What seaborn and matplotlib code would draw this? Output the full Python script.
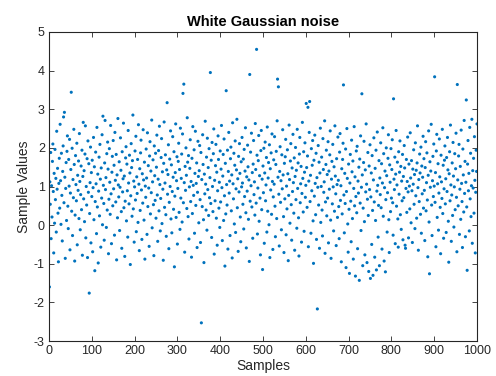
import numpy as np
import pandas as pd
import matplotlib
matplotlib.use("Agg")
import matplotlib.pyplot as plt
import seaborn as sns

# ---- data (read / estimated from the reference) ----
sample_values = [
    -1.60, 1.12, 0.54, 1.88, -0.35, 1.02, 0.21, 1.65, 2.10, 0.87, -0.72, 1.34, 0.05, 1.96, 0.66, 1.21, -0.18, 2.43, 0.93, 1.47, 0.31, -0.95, 1.08, 1.73, 0.44,
    2.61, 1.15, 0.02, 1.86, 0.77, -0.41, 1.39, 2.05, 2.80, 0.58, 2.92, 1.24, -0.86, 0.95, 1.62, 0.12, 1.91, 2.31, 0.49, -0.09, 1.70, 1.01, 2.22, -0.64, 0.83,
    1.44, 3.44, 0.36, 1.99, -0.27, 1.18, 0.71, 2.48, 1.57, -0.93, 0.26, 1.80, 1.05, 0.63, 2.12, -0.51, 1.29, 0.90, 1.66, 0.17, 2.37, 1.13, -0.12, 0.79, 1.53,
    0.40, 1.94, -0.78, 1.26, 2.66, 0.68, 1.41, 0.09, 1.84, 2.57, -0.33, 1.00, 0.52, 1.72, -0.84, 2.18, 0.85, 1.59, -1.76, 0.30, 1.10, 2.02, -0.46, 1.36, 0.74,
    1.68, -0.69, 0.97, 2.27, 0.14, 1.51, -1.18, 0.61, 1.89, 1.07, -0.22, 2.53, 0.47, 1.32, -0.98, 0.88, 1.76, 0.24, 2.09, 1.19, -0.57, 1.48, 0.70, 2.34, 0.01,
    2.82, 1.03, 0.56, -0.39, 1.61, 2.71, 0.92, 1.23, -0.06, 1.85, 0.39, 2.15, 1.45, -0.74, 0.67, 1.98, 1.11, 0.28, 2.58, 0.81, -0.48, 1.37, 1.78, 0.50, 2.19,
    0.94, 1.55, -0.26, 2.40, 1.16, 0.60, 1.83, -0.90, 1.30, 0.19, 2.76, 1.04, 0.73, 1.64, -0.14, 0.98, 2.26, 1.42, 0.35, -0.60, 1.90, 0.86, 1.20, 2.64, 0.45,
    1.27, -0.81, 0.62, 1.74, 2.03, 0.11, 1.58, 0.89, -0.31, 2.45, 1.09, 0.55, 1.81, 1.35, -1.02, 0.76, 2.11, 1.49, 0.23, 1.67, 2.85, 0.42, 1.14, -0.44, 0.99,
    1.92, 0.65, 2.30, -0.17, 1.25, 0.82, 1.70, 0.07, 2.60, 1.06, -0.66, 1.46, 0.38, 1.87, 2.20, 0.91, -0.37, 1.33, 0.57, 2.47, 1.17, 0.13, 1.63, -0.88, 1.01,
    0.72, 1.97, 1.22, -0.24, 2.39, 0.48, 1.54, 0.96, -0.55, 1.79, 2.16, 0.29, 1.40, 0.84, 2.72, -0.07, 1.12, 1.69, 0.53, -0.79, 2.05, 1.28, 0.64, 1.86, 0.18,
    1.50, 2.33, 0.78, -0.42, 1.19, 1.93, 0.37, 2.56, 1.05, -0.15, 0.69, 1.75, 2.24, 0.04, 1.38, 0.93, -0.91, 1.60, 2.67, 0.46, 1.09, 1.82, 0.27, -0.29, 1.43,
    3.17, 0.80, 1.31, 2.08, -0.61, 0.59, 1.71, 1.00, 2.44, 0.16, 1.56, -0.20, 0.87, 2.29, 1.24, 0.41, 1.90, -1.08, 0.75, 1.36, 2.62, 0.20, 1.15, 1.77, -0.49,
    0.95, 1.65, 2.12, 0.33, 1.44, -0.11, 2.51, 0.70, 1.21, 1.84, 0.08, 2.36, 3.41, 0.58, 3.65, 1.10, -0.70, 1.52, 0.90, 2.00, 1.29, 0.43, 2.78, 1.63, 0.22,
    1.80, -0.36, 0.99, 1.47, 2.21, 0.61, 1.13, -0.83, 1.73, 0.30, 2.55, 1.03, 0.77, 1.95, -0.21, 1.34, 2.43, 0.51, 1.08, 1.61, -0.58, 0.85, 2.17, 1.26, 0.06,
    1.41, 2.06, 0.66, -0.45, 1.88, -2.53, 1.18, 0.48, 2.34, 1.57, 0.14, -0.97, 1.32, 0.81, 2.69, 1.06, 0.39, 1.76, -0.13, 2.25, 0.92, 1.49, 0.25, 1.98, 0.71,
    1.23, 3.95, 0.56, 1.68, -0.32, 2.14, 1.00, 0.35, 1.85, 2.49, -0.75, 1.16, 0.63, 1.54, 2.09, 0.18, 1.37, -0.52, 0.89, 2.31, 1.70, 0.44, 1.11, -0.06, 1.92,
    0.60, 1.45, 2.58, 0.97, -0.40, 1.27, 1.83, 0.12, 2.23, 0.76, -1.06, 1.60, 0.29, 3.48, 1.05, 0.52, 1.94, -0.62, 1.39, 2.40, 0.83, 1.14, -0.27, 1.72, 2.02,
    0.37, 1.30, -0.85, 2.65, 1.07, 0.68, 1.86, 0.03, 1.55, 2.18, -0.19, 0.94, 1.43, 2.74, 0.45, 1.20, -0.68, 1.78, 0.86, 2.11, 1.34, 0.21, -0.43, 1.64, 0.99,
    2.27, 1.09, 0.54, 1.71, -0.10, 1.96, 0.74, 1.40, 2.52, 0.32, -0.59, 1.25, 0.88, 2.07, 1.51, 0.15, 1.17, -0.94, 3.90, 0.62, 1.89, 1.02, 2.38, 0.47, 1.36,
    -0.34, 1.58, 2.19, 0.79, 1.12, 0.26, 2.63, 1.44, 0.57, 4.55, 1.81, -0.23, 0.96, 1.67, 2.32, 0.10, 1.28, 0.70, -0.77, 1.93, 2.45, 0.40, 1.19, -1.15, 1.53,
    0.84, 1.99, -0.47, 1.35, 2.15, 0.63, 1.04, 1.75, -0.18, 2.54, 0.36, 1.22, 1.62, 0.01, 2.08, -0.84, 1.46, 0.91, 1.87, 0.28, 2.36, 1.13, -0.63, 0.73, 1.69,
    1.06, 2.29, 0.49, -0.30, 1.57, 1.91, 0.17, 2.70, 3.78, 1.24, 3.58, 0.80, -0.54, 1.39, 2.03, 0.59, 1.15, -0.12, 1.82, 0.94, 2.47, 1.30, 0.22, -0.71, 1.60,
    0.68, 1.77, 2.22, -0.25, 1.01, 0.42, 1.95, 1.33, -0.92, 0.77, 2.59, 1.18, 0.05, 1.66, 2.11, 0.53, -0.39, 1.48, 0.87, 2.35, 1.10, 0.31, 1.74, -0.65, 1.26,
    2.01, 0.66, 1.42, -0.08, 2.48, 0.95, 1.61, 0.19, -0.80, 1.84, 2.27, 0.58, 1.07, 1.52, -0.44, 0.82, 2.66, 1.21, 0.34, 1.90, -0.16, 1.37, 2.13, 0.72, 1.03,
    3.15, 1.49, 0.46, 1.79, 3.05, -0.56, 1.14, 2.40, 3.20, 0.61, 1.29, -0.21, 1.98, 0.89, 1.55, 2.19, 0.11, -0.99, 1.68, 0.75, 2.33, 1.08, 0.27, 1.86, -0.37,
    1.23, -2.17, 0.98, 2.06, 0.52, 1.63, -0.60, 1.35, 2.51, 0.07, 1.00, 1.76, 0.39, -0.28, 2.24, 1.44, 0.85, 1.12, 2.70, -0.73, 0.60, 1.57, 1.94, 0.24, 1.31,
    0.70, 2.16, -0.46, 1.40, 0.93, 1.82, 2.44, 0.13, -0.86, 1.19, 1.65, 0.55, 2.09, 0.99, -0.15, 1.51, 0.36, 2.57, 1.27, 0.81, -0.53, 1.72, 1.05, 0.20, 2.28,
    1.16, 0.48, -0.35, 1.89, 2.37, 0.64, 1.02, -0.95, 1.46, 0.29, 1.70, 2.12, 3.63, 0.78, -0.20, 1.34, 0.56, 1.97, -1.10, 0.87, 2.50, 1.21, 0.03, -0.70, 1.58,
    0.41, -1.25, 1.09, 1.83, 0.62, -0.43, 2.20, 1.38, 0.17, 1.66, -0.88, 0.95, 2.55, 0.50, 1.25, -1.32, 0.74, 1.92, 0.32, 2.04, -0.61, 1.14, 0.83, 1.50, -1.43,
    1.71, 0.57, 2.31, -0.14, 0.98, 3.40, 1.30, -1.05, 0.44, 1.62, 2.17, 0.09, -0.77, 1.43, 0.86, 2.62, 1.06, -0.97, 0.67, 1.88, 0.25, -1.20, 1.53, 0.92, 2.08,
    -1.38, 0.73, 1.35, -0.50, 1.80, 0.38, -1.30, 1.17, 2.26, 0.60, -0.83, 1.47, 0.12, 1.94, -1.16, 0.88, 2.41, 1.03, -0.31, 0.51, 1.67, -1.05, 1.22, 0.79, 2.13,
    0.45, 1.59, -0.62, 1.09, 2.52, 0.23, 1.85, -0.93, 0.97, 1.40, -1.21, 0.66, 2.00, 1.28, -0.18, 0.84, 1.73, 2.34, 0.14, -0.71, 1.56, 1.11, 0.35, 1.98, 0.70,
    1.44, 2.21, 0.58, -0.26, 3.27, 1.19, 0.92, 1.76, -0.48, 1.32, 2.45, 0.49, 1.04, 1.63, 0.16, -0.57, 1.90, 0.80, 1.37, 2.18, 0.27, 1.52, -0.11, 1.14, 0.63,
    1.83, -0.38, 1.26, 0.71, 2.06, 1.48, -0.52, -0.60, 0.95, 1.70, 0.33, 1.13, 2.28, 0.86, -0.33, 1.58, 1.01, 0.42, 2.39, 1.22, 0.06, 1.67, 0.89, -0.45, 1.45,
    1.06, 1.95, 0.54, 1.31, -0.09, 2.13, 0.76, 1.42, 0.18, 1.61, 2.57, 0.97, -0.65, 1.18, 0.61, 1.84, 1.35, 0.28, 2.02, -0.21, 1.53, 0.81, 1.24, 2.30, 0.44,
    1.72, 0.90, -0.40, 1.49, 2.16, 0.37, 1.10, 1.87, 0.65, -0.82, 1.29, 2.44, 0.08, -1.26, 1.64, 0.98, 1.40, 2.61, 0.52, -0.27, 1.15, 1.78, 0.74, 2.10, 1.01,
    3.84, 0.59, 1.36, -0.56, 1.92, 2.35, 0.20, 1.07, 1.59, -0.13, 0.83, 2.23, 1.25, 0.46, -0.74, 1.81, 1.12, 0.69, 2.48, 0.30, 1.55, -0.34, 0.94, 1.68, 2.05,
    0.55, 1.20, -0.19, 1.75, 0.87, 2.27, 1.43, 0.10, -0.96, 1.33, 1.90, 0.63, 2.59, 1.04, -0.42, 0.78, 1.61, 0.25, 2.14, 1.27, -0.05, 0.99, 1.85, 0.40, 1.46,
    2.38, 0.72, -0.69, 3.64, 1.17, 0.50, 1.79, 2.09, -0.24, 0.93, 1.52, 0.15, 2.46, 1.08, 0.61, -0.58, 1.97, 1.30, 0.34, 2.71, 0.82, 1.65, -0.30, 1.11, 3.24,
    0.47, -1.17, 1.58, 2.19, 0.89, 1.34, -0.15, 2.53, 0.68, 1.86, 0.22, 1.02, 2.74, -0.47, 1.41, 0.96, 1.73, 0.31, 2.29, 1.16, -0.72, 0.85, 1.94, 1.39, 2.62,
]
sample_index = list(range(1, len(sample_values) + 1))

x_ticks = [0, 100, 200, 300, 400, 500, 600, 700, 800, 900, 1000]
y_ticks = [-3, -2, -1, 0, 1, 2, 3, 4, 5]

title_text = "White Gaussian noise"
x_label = "Samples"
y_label = "Sample Values"

df = pd.DataFrame({"Samples": sample_index, "Sample Values": sample_values})

# ---- style ----
sns.set_style("ticks")
plt.rcParams["font.family"] = ["Liberation Sans", "DejaVu Sans"]

fig = plt.figure(figsize=(4.96, 3.76), dpi=100)
ax = fig.add_axes([49 / 496, 35 / 376, 428 / 496, 309 / 376])

sns.scatterplot(data=df, x="Samples", y="Sample Values", ax=ax,
                s=5, color="#0072BD", edgecolor="none", linewidth=0)

ax.set_xlim(0, 1000)
ax.set_ylim(-3, 5)
ax.set_xticks(x_ticks)
ax.set_yticks(y_ticks)
ax.set_xticklabels([str(t) for t in x_ticks])
ax.set_yticklabels([str(t) for t in y_ticks])

for sp in ax.spines.values():
    sp.set_visible(True)
    sp.set_color("#262626")
    sp.set_linewidth(0.8)

ax.tick_params(axis="both", direction="in", length=3.5, width=0.6,
               colors="#262626", labelsize=9, top=True, right=True, pad=3)
for lab in ax.get_xticklabels() + ax.get_yticklabels():
    lab.set_color("#262626")

ax.set_title(title_text, fontsize=10.5, fontweight="bold", color="black", pad=4)
ax.set_xlabel(x_label, fontsize=10, color="#262626", labelpad=1)
ax.set_ylabel(y_label, fontsize=10, color="#262626", labelpad=2)

fig.savefig("out.png", dpi=100)
